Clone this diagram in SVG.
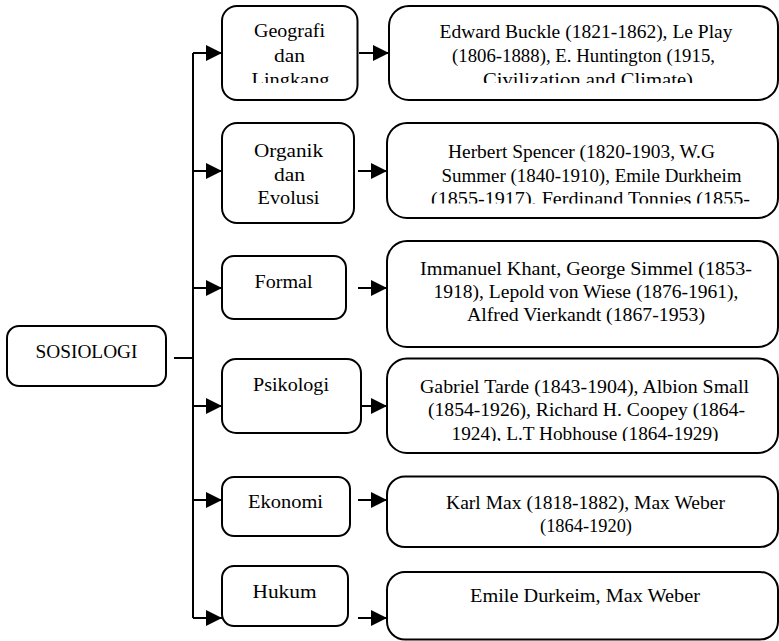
<svg xmlns="http://www.w3.org/2000/svg" width="779" height="641" viewBox="0 0 779 641">
  <style>
    .box { fill: #ffffff; stroke: #000000; stroke-width: 2; }
    .lbl { font-family: "Liberation Serif", "DejaVu Serif", serif; font-size: 18.5px; fill: #000000; text-anchor: middle; }
    .wire { fill: none; stroke: #000000; stroke-width: 2; }
    .arrow { fill: none; stroke: #000000; stroke-width: 2; marker-end: url(#head); }
  </style>
  <defs>
    <marker id="head" markerUnits="userSpaceOnUse" markerWidth="16" markerHeight="16" refX="16" refY="8" orient="auto">
      <path d="M0,0 L16,8 L0,16 Z" fill="#000000"/>
    </marker>
    <!-- text areas that cut off overflowing lines -->
    <clipPath id="clipGeo"><rect x="222" y="6" width="136" height="77"/></clipPath>
    <clipPath id="clipGeoD"><rect x="389" y="6" width="389" height="77"/></clipPath>
    <clipPath id="clipOrgD"><rect x="387" y="123" width="391" height="80.5"/></clipPath>
    <clipPath id="clipPsiD"><rect x="387" y="359" width="391" height="82"/></clipPath>
  </defs>
  <rect width="779" height="641" fill="#ffffff"/>

  <g id="connectors">
    <path class="wire" d="M174,358 H193 M193,53 V618"/>
    <path class="arrow" d="M193,53 H222"/>
    <path class="arrow" d="M193,171 H222"/>
    <path class="arrow" d="M193,288 H222"/>
    <path class="arrow" d="M193,406 H222"/>
    <path class="arrow" d="M193,500 H222"/>
    <path class="arrow" d="M193,618 H222"/>
    <path class="arrow" d="M359,53 H389"/>
    <path class="arrow" d="M358,171 H387"/>
    <path class="arrow" d="M358,288 H387"/>
    <path class="arrow" d="M358,406 H387"/>
    <path class="arrow" d="M358,500 H387"/>
    <path class="arrow" d="M358,618 H387"/>
  </g>

  <g id="sosiologi">
    <rect class="box" x="7" y="326" width="159" height="60" rx="12"/>
    <text class="lbl" x="86.5" y="358" textLength="102" lengthAdjust="spacingAndGlyphs">SOSIOLOGI</text>
  </g>

  <g id="geografi">
    <rect class="box" x="222" y="6" width="135.5" height="94" rx="15"/>
    <text class="lbl" clip-path="url(#clipGeo)"><tspan x="289.5" y="37" textLength="71" lengthAdjust="spacingAndGlyphs">Geografi</tspan><tspan x="289.5" y="61.5" textLength="31" lengthAdjust="spacingAndGlyphs">dan</tspan><tspan x="290.5" y="86" textLength="78" lengthAdjust="spacingAndGlyphs">Lingkang</tspan></text>
  </g>
  <g id="geografi-tokoh">
    <rect class="box" x="389" y="6" width="389" height="94" rx="20"/>
    <text class="lbl" clip-path="url(#clipGeoD)"><tspan x="586" y="37.5" textLength="293" lengthAdjust="spacingAndGlyphs">Edward Buckle (1821-1862), Le Play</tspan><tspan x="583.5" y="61.5" textLength="263" lengthAdjust="spacingAndGlyphs">(1806-1888), E. Huntington (1915,</tspan><tspan x="588" y="85.5" textLength="210" lengthAdjust="spacingAndGlyphs">Civilization and Climate)</tspan></text>
  </g>

  <g id="organik">
    <rect class="box" x="222" y="123" width="132" height="100" rx="15"/>
    <text class="lbl"><tspan x="288.5" y="157" textLength="69" lengthAdjust="spacingAndGlyphs">Organik</tspan><tspan x="289.5" y="181" textLength="31" lengthAdjust="spacingAndGlyphs">dan</tspan><tspan x="288.5" y="204" textLength="62" lengthAdjust="spacingAndGlyphs">Evolusi</tspan></text>
  </g>
  <g id="organik-tokoh">
    <rect class="box" x="387" y="123" width="391" height="95" rx="20"/>
    <text class="lbl" clip-path="url(#clipOrgD)"><tspan x="581.5" y="158" textLength="267" lengthAdjust="spacingAndGlyphs">Herbert Spencer (1820-1903, W.G</tspan><tspan x="591.5" y="181.5" textLength="300" lengthAdjust="spacingAndGlyphs">Summer (1840-1910), Emile Durkheim</tspan><tspan x="590.5" y="204.5" textLength="319" lengthAdjust="spacingAndGlyphs">(1855-1917), Ferdinand Tonnies (1855-</tspan></text>
  </g>

  <g id="formal">
    <rect class="box" x="222" y="256" width="124" height="63" rx="12"/>
    <text class="lbl" x="283.5" y="288" textLength="58" lengthAdjust="spacingAndGlyphs">Formal</text>
  </g>
  <g id="formal-tokoh">
    <rect class="box" x="387" y="241" width="391" height="106" rx="20"/>
    <text class="lbl"><tspan x="586" y="275" textLength="332" lengthAdjust="spacingAndGlyphs">Immanuel Khant, George Simmel (1853-</tspan><tspan x="586" y="298" textLength="305" lengthAdjust="spacingAndGlyphs">1918), Lepold von Wiese (1876-1961),</tspan><tspan x="586" y="321" textLength="238" lengthAdjust="spacingAndGlyphs">Alfred Vierkandt (1867-1953)</tspan></text>
  </g>

  <g id="psikologi">
    <rect class="box" x="222" y="359" width="139" height="74" rx="14"/>
    <text class="lbl" x="291" y="391" textLength="76" lengthAdjust="spacingAndGlyphs">Psikologi</text>
  </g>
  <g id="psikologi-tokoh">
    <rect class="box" x="387" y="358.5" width="391" height="94.5" rx="20"/>
    <text class="lbl" clip-path="url(#clipPsiD)"><tspan x="584.5" y="393" textLength="329" lengthAdjust="spacingAndGlyphs">Gabriel Tarde (1843-1904), Albion Small</tspan><tspan x="586.5" y="416" textLength="317" lengthAdjust="spacingAndGlyphs">(1854-1926), Richard H. Coopey (1864-</tspan><tspan x="585" y="439.5" textLength="267" lengthAdjust="spacingAndGlyphs">1924), L.T Hobhouse (1864-1929)</tspan></text>
  </g>

  <g id="ekonomi">
    <rect class="box" x="222" y="477" width="128" height="59" rx="12"/>
    <text class="lbl" x="285.5" y="508" textLength="75" lengthAdjust="spacingAndGlyphs">Ekonomi</text>
  </g>
  <g id="ekonomi-tokoh">
    <rect class="box" x="387" y="476.5" width="391" height="70.5" rx="18"/>
    <text class="lbl"><tspan x="585.5" y="508.5" textLength="279" lengthAdjust="spacingAndGlyphs">Karl Max (1818-1882), Max Weber</tspan><tspan x="586" y="531.5" textLength="92" lengthAdjust="spacingAndGlyphs">(1864-1920)</tspan></text>
  </g>

  <g id="hukum">
    <rect class="box" x="222" y="566" width="126" height="60" rx="12"/>
    <text class="lbl" x="284.5" y="598" textLength="64" lengthAdjust="spacingAndGlyphs">Hukum</text>
  </g>
  <g id="hukum-tokoh">
    <rect class="box" x="387" y="572" width="391" height="67.5" rx="18"/>
    <text class="lbl" x="585" y="602" textLength="230" lengthAdjust="spacingAndGlyphs">Emile Durkeim, Max Weber</text>
  </g>
</svg>
